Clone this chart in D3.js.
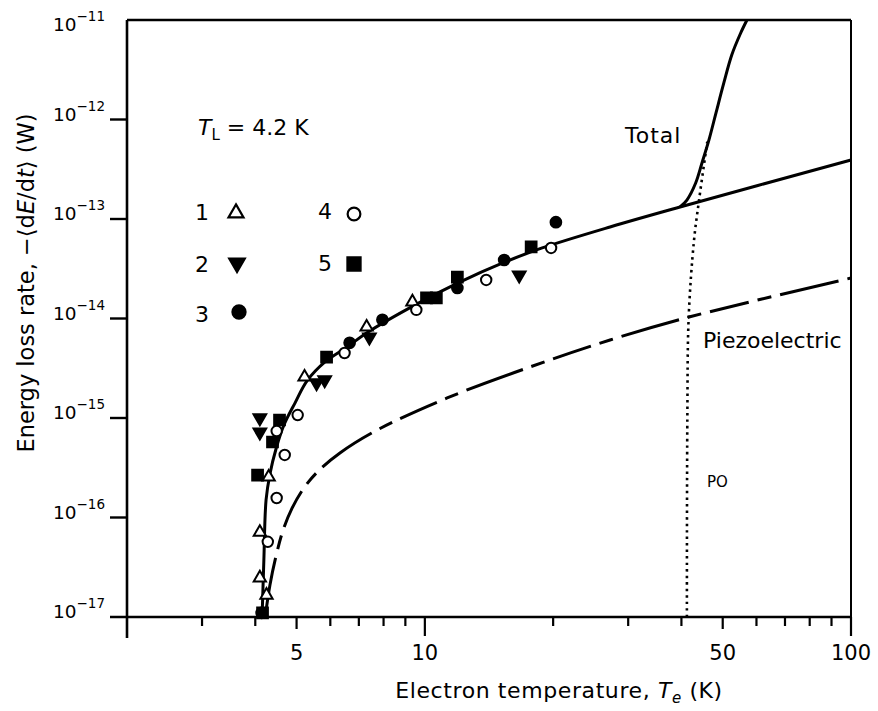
<!DOCTYPE html>
<html><head><meta charset="utf-8">
<script src="https://cdn.jsdelivr.net/npm/d3@7"></script>
<style>
body{margin:0;background:#fff}
svg text{font-family:"DejaVu Sans",sans-serif;fill:#000}
</style></head><body>
<svg id="c" width="878" height="711"></svg>
<script>
// ---- data ----
const xDomain = [2, 100];
const yDomain = [1e-17, 1e-11];
const xTickValues = [3,4,5,6,7,8,9,10,20,30,40,50,60,70,80,90,100];
const xTickLabels = [5,10,50,100];
const yTickExponents = [-17,-16,-15,-14,-13,-12,-11];

// fitted curve (solid)
const fitT = [4.15,4.19,4.24,4.33,4.48,4.67,4.96,5.29,5.83,6.57,7.36,9.49,11.97,15.43,18.85,27.2,39.7,100];
const fitP = [1e-17,3.74e-17,1.50e-16,2.74e-16,4.99e-16,8.5e-16,1.42e-15,2.36e-15,3.66e-15,5.18e-15,7.31e-15,1.37e-14,2.28e-14,3.70e-14,5.12e-14,8.32e-14,1.32e-13,3.92e-13];
// piezoelectric (dashed)
const piezoT = [4.22,4.33,4.48,4.65,4.88,5.18,5.59,6.32,7.73,11.28,17.66,27.2,41.9,100];
const piezoP = [1e-17,2.10e-17,4.20e-17,7.48e-17,1.24e-16,1.93e-16,2.86e-16,4.45e-16,7.57e-16,1.59e-15,3.26e-15,6.08e-15,1.04e-14,2.55e-14];
// total including PO (solid, steep)
const totalT = [39.7,41.2,43.2,44.7,46.4,48.2,50.3,52.5,55.1,57.0];
const totalP = [1.32e-13,1.55e-13,2.3e-13,3.66e-13,6.2e-13,1.16e-12,2.33e-12,4.45e-12,7.4e-12,1.0e-11];
// polar optic (dotted)
const poT = [41.2,41.3,41.6,42.8,44.0,46.0];
const poP = [1e-17,1e-15,1.03e-14,6e-14,1.55e-13,6e-13];

// measured points, series 1..5
const s1T = [4.30,4.10,4.10,4.25,5.22,7.30,9.35];
const s1P = [2.55e-16,7.1e-17,2.47e-17,1.66e-17,2.58e-15,8.2e-15,1.47e-14];
const s2T = [4.10,4.10,5.82,5.57,7.41,16.65];
const s2P = [1.0e-15,7.2e-16,2.41e-15,2.25e-15,6.5e-15,2.73e-14];
const s3T = [4.14,6.66,7.95,11.92,15.35,20.3];
const s3P = [1.1e-17,5.7e-15,9.7e-15,2.03e-14,3.87e-14,9.3e-14];
const s4T = [5.03,4.49,4.69,4.49,4.28,6.48,9.55,13.93,19.78];
const s4P = [1.07e-15,7.4e-16,4.25e-16,1.57e-16,5.7e-17,4.5e-15,1.22e-14,2.44e-14,5.12e-14];
const s5T = [4.56,4.39,4.05,4.16,5.88,10.09,10.64,11.92,17.76];
const s5P = [9.55e-16,5.74e-16,2.67e-16,1.1e-17,4.1e-15,1.61e-14,1.61e-14,2.61e-14,5.24e-14];
const seriesNames = ["1","2","3","4","5"];

// ---- drawing ----
const svg = d3.select("#c");
const x = d3.scaleLog().domain(xDomain).range([127, 851]);
const y = d3.scaleLog().domain(yDomain).range([617, 20]);
const zip = (a,b) => a.map((v,i)=>[v,b[i]]);
const line = d3.line().x(d=>x(d[0])).y(d=>y(d[1]));

// frame
const g = svg.append("g").attr("stroke","#000").attr("fill","none");
g.append("line").attr("x1",x(2)).attr("x2",x(2)).attr("y1",y(1e-11)).attr("y2",y(1e-17)+21).attr("stroke-width",2.6);
g.append("line").attr("x1",x(2)-17).attr("x2",x(100)).attr("y1",y(1e-17)).attr("y2",y(1e-17)).attr("stroke-width",2.6);
g.append("line").attr("x1",x(2)).attr("x2",x(100)).attr("y1",y(1e-11)).attr("y2",y(1e-11)).attr("stroke-width",2.4);
g.append("line").attr("x1",x(100)).attr("x2",x(100)).attr("y1",y(1e-11)).attr("y2",y(1e-17)).attr("stroke-width",2);

// x ticks
xTickValues.forEach(v=>{
  const len = (v===10||v===100) ? 19 : (v===5||v===50) ? 12 : 9;
  g.append("line").attr("x1",x(v)).attr("x2",x(v)).attr("y1",y(1e-17)).attr("y2",y(1e-17)+len).attr("stroke-width",2.2);
});
svg.selectAll(".xl").data(xTickLabels).join("text").attr("class","xl")
  .attr("x",d=>x(d)).attr("y",660).attr("text-anchor","middle").attr("font-size",21).text(d=>d);

// y ticks
yTickExponents.forEach(e=>{
  const v = Math.pow(10,e);
  if (e>-17 && e<-11) g.append("line").attr("x1",x(2)-17).attr("x2",x(2)).attr("y1",y(v)).attr("y2",y(v)).attr("stroke-width",2.4);
  const t = svg.append("text").attr("x",105).attr("y",y(v) + (e===-11 ? 11 : 1)).attr("text-anchor","end").attr("font-size",18.5);
  t.append("tspan").text("10");
  t.append("tspan").attr("dy",-10).attr("font-size",13.5).text("\u2212" + Math.abs(e));
});

// axis titles
const xt = svg.append("text").attr("x",559).attr("y",698).attr("text-anchor","middle").attr("font-size",22).attr("letter-spacing",0.6);
xt.append("tspan").text("Electron temperature, ");
xt.append("tspan").attr("font-style","italic").text("T");
xt.append("tspan").attr("font-style","italic").attr("font-size",15).attr("dy",5).text("e");
xt.append("tspan").attr("dy",-5).text(" (K)");

const yt = svg.append("text").attr("transform","translate(34,283) rotate(-90)").attr("text-anchor","middle").attr("font-size",22.5);
yt.append("tspan").text("Energy loss rate, \u2212\u27e8d");
yt.append("tspan").attr("font-style","italic").text("E");
yt.append("tspan").text("/d");
yt.append("tspan").attr("font-style","italic").text("t");
yt.append("tspan").text("\u27e9  (W)");

// curves
svg.append("path").datum(zip(piezoT,piezoP)).attr("d",line.curve(d3.curveCatmullRom.alpha(0.5)))
  .attr("fill","none").attr("stroke","#000").attr("stroke-width",3).attr("stroke-dasharray","60,9,14,9,40,9,14,9");
svg.append("path").datum(zip(fitT,fitP)).attr("d",line.curve(d3.curveCatmullRom.alpha(0.5)))
  .attr("fill","none").attr("stroke","#000").attr("stroke-width",3);
svg.append("path").datum(zip(totalT,totalP)).attr("d",line.curve(d3.curveCatmullRom.alpha(0.5)))
  .attr("fill","none").attr("stroke","#000").attr("stroke-width",3);
svg.append("path").datum(zip(poT,poP)).attr("d",line.curve(d3.curveCatmullRom))
  .attr("fill","none").attr("stroke","#000").attr("stroke-width",2.6).attr("stroke-dasharray","2.5,4");

// markers
const styles = [
  {type:d3.symbolTriangle, rot:0, fill:"#fff", size:65},
  {type:d3.symbolTriangle, rot:180, fill:"#000", size:70},
  {type:d3.symbolCircle, rot:0, fill:"#000", size:90},
  {type:d3.symbolCircle, rot:0, fill:"#fff", size:85},
  {type:d3.symbolSquare, rot:0, fill:"#000", size:115}
];
const allSeries = [zip(s1T,s1P),zip(s2T,s2P),zip(s3T,s3P),zip(s4T,s4P),zip(s5T,s5P)];
const drawOrder = [4,2,1,0,3];
drawOrder.forEach(i=>{
  const st = styles[i];
  svg.append("g").selectAll("path").data(allSeries[i]).join("path")
    .attr("transform",d=>`translate(${x(d[0])},${y(d[1])}) rotate(${st.rot})`)
    .attr("d",d3.symbol().type(st.type).size(st.size)())
    .attr("fill",st.fill).attr("stroke","#000").attr("stroke-width",2);
});

// legend
const tl = svg.append("text").attr("x",198).attr("y",135).attr("font-size",22);
tl.append("tspan").attr("font-style","italic").text("T");
tl.append("tspan").attr("font-size",15).attr("dy",5).text("L");
tl.append("tspan").attr("dy",-5).text(" = 4.2 K");
const legPos = [[202,220,236,213],[202,272,237,263],[202,322,239,312],[325,219,354,214],[325,271,354,264]];
seriesNames.forEach((n,i)=>{
  const p = legPos[i], st = styles[i];
  svg.append("text").attr("x",p[0]).attr("y",p[1]).attr("text-anchor","middle").attr("font-size",22).text(n);
  svg.append("path").attr("transform",`translate(${p[2]},${p[3]}) rotate(${st.rot})`)
    .attr("d",d3.symbol().type(st.type).size(st.size*1.5)())
    .attr("fill",st.fill).attr("stroke","#000").attr("stroke-width",2.2);
});

// annotations
svg.append("text").attr("x",625).attr("y",143).attr("font-size",22).attr("letter-spacing",1).text("Total");
svg.append("text").attr("x",703).attr("y",348).attr("font-size",22).text("Piezoelectric");
svg.append("text").attr("x",707).attr("y",487).attr("font-size",15).text("PO");
</script>
</body></html>
